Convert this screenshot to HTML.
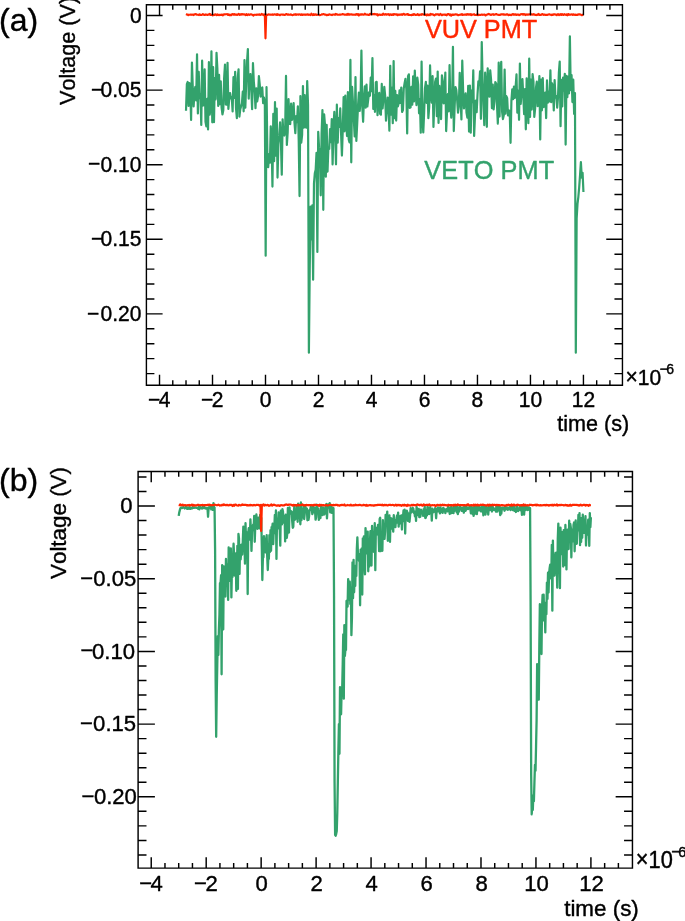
<!DOCTYPE html>
<html lang="en"><head><meta charset="utf-8"><title>VUV PMT / VETO PMT waveforms</title>
<style>html,body{margin:0;padding:0;background:#fff}body{width:685px;height:921px;overflow:hidden}svg{display:block;will-change:transform}text{font-family:'Liberation Sans', sans-serif;font-kerning:none;stroke-width:.4px;stroke-linejoin:round}</style></head><body>
<svg width="685" height="921" viewBox="0 0 685 921">
<rect width="685" height="921" fill="#fff"/>
<polyline points="186.01,110.72 186.86,84.18 187.71,81.96 188.56,105.88 189.4,82.99 190.25,87.54 191.1,119.96 191.95,62.51 192.79,87.73 193.64,106.35 194.49,91.39 195.34,86.8 196.18,100.47 197.03,54.29 197.88,113.51 198.73,71.77 199.57,98.08 200.42,94.44 201.27,124.94 202.12,60.72 202.96,105.56 203.81,105.09 204.66,69.41 205.5,121.82 206.35,126.34 207.2,98.76 208.05,129.48 208.89,62.2 209.74,114.63 210.59,107.33 211.44,51.31 212.28,122.3 213.13,67.16 213.98,122.17 214.83,78.21 215.67,99.41 216.52,52.73 217.37,68.7 218.22,106.01 219.06,74.81 219.91,104.23 220.76,81.4 221.61,107.61 222.45,114.44 223.3,110.31 224.15,77.84 224.99,64.49 225.84,104.38 226.69,104.64 227.54,62.89 228.38,108.94 229.23,98.7 230.08,93 230.93,98.48 231.77,97.6 232.62,111.52 233.47,77.16 234.32,97.96 235.16,71.77 236.01,108.25 236.86,118.18 237.71,78.19 238.55,69.31 239.4,116.56 240.25,109.43 241.1,106.29 241.94,103.25 242.79,91.65 243.64,111.3 244.48,60.1 245.33,107.74 246.18,82.6 247.03,61.87 247.87,49.07 248.72,98.6 249.57,77.28 250.42,74.13 251.26,89.03 252.11,109.18 252.96,63.2 253.81,81.6 254.65,91.38 255.5,108.11 256.35,88.46 257.2,101.43 258.04,96.39 258.89,76.15 259.74,84.24 260.59,96.53 261.43,88.91 262.28,87.44 263.13,103.23 263.97,97.59 264.82,102.18 265.67,255.71 266.52,87.22 267.36,153.23 268.21,167.07 269.06,154.18 269.91,162.63 270.75,126.24 271.6,140.8 272.45,186.58 273.3,113.76 274.14,161.12 274.99,102.16 275.84,155.62 276.69,108.57 277.53,177.53 278.38,144.52 279.23,135.39 280.08,122.34 280.92,141.54 281.77,174.61 282.62,119.38 283.46,134.53 284.31,135.47 285.16,131.11 286.01,75.94 286.85,145 287.7,132.02 288.55,99.22 289.4,123.87 290.24,124.03 291.09,103.7 291.94,119.92 292.79,116.81 293.63,103.04 294.48,122.71 295.33,133.09 296.18,116.18 297.02,122.26 297.87,106.28 298.72,140.51 299.56,196.03 300.41,96.09 301.26,142.59 302.11,134.86 302.95,86.02 303.8,127.73 304.65,95.09 305.5,126.72 306.34,127.67 307.19,81.15 308.04,105.02 308.89,352.69 309.73,269.14 310.58,206.48 311.43,239.3 312.28,205.43 313.12,279.77 313.97,183.51 314.82,173.24 315.67,169.68 316.51,152.89 317.36,251.9 318.21,131.84 319.05,147.17 319.9,154.35 320.75,195.31 321.6,133.57 322.44,110.06 323.29,209.82 324.14,114.25 324.99,124.76 325.83,176.67 326.68,124.93 327.53,171.58 328.38,147.43 329.22,148.9 330.07,128.99 330.92,142.04 331.77,119.01 332.61,164.39 333.46,127.24 334.31,111.97 335.16,132.38 336,164.3 336.85,104.69 337.7,142.73 338.54,118.1 339.39,126.95 340.24,108.47 341.09,133.6 341.93,155.57 342.78,129.17 343.63,97.04 344.48,131.3 345.32,95.51 346.17,120.38 347.02,136.06 347.87,92.15 348.71,139.37 349.56,142.46 350.41,59.95 351.26,162.32 352.1,86.97 352.95,102.07 353.8,118.59 354.65,136.44 355.49,77.06 356.34,140.9 357.19,123.63 358.03,105.64 358.88,92.68 359.73,110.94 360.58,97.73 361.42,50.56 362.27,106.49 363.12,121.8 363.97,97.9 364.81,86.32 365.66,107.69 366.51,84.64 367.36,106.5 368.2,99.64 369.05,92.25 369.9,95.78 370.75,77.58 371.59,91.23 372.44,58.11 373.29,108.99 374.14,95.06 374.98,111.83 375.83,82.25 376.68,81.88 377.52,115.21 378.37,99.17 379.22,92.86 380.07,113.78 380.91,114.66 381.76,83.96 382.61,108.39 383.46,98.9 384.3,86.95 385.15,95.53 386,120.74 386.85,109.69 387.69,97.61 388.54,106.88 389.39,130.63 390.24,65.88 391.08,114.75 391.93,87.96 392.78,123.25 393.63,61.03 394.47,118.18 395.32,90.94 396.17,120.56 397.01,95.07 397.86,106.39 398.71,103.18 399.56,90.4 400.4,103 401.25,87.58 402.1,111.99 402.95,110.15 403.79,88.07 404.64,82.99 405.49,78.83 406.34,89.1 407.18,133.42 408.03,76.17 408.88,74.32 409.73,107.91 410.57,107.36 411.42,86.9 412.27,104.72 413.12,76.3 413.96,101.45 414.81,70.59 415.66,93.02 416.5,105.09 417.35,77.56 418.2,84.51 419.05,113.31 419.89,99.39 420.74,132.69 421.59,61.54 422.44,117.53 423.28,132.35 424.13,113.03 424.98,88.46 425.83,81.9 426.67,102.84 427.52,85.72 428.37,118.16 429.22,106.72 430.06,65.43 430.91,93.6 431.76,102.61 432.6,76.15 433.45,126.95 434.3,102.3 435.15,81.79 435.99,78.55 436.84,116.17 437.69,71.52 438.54,122.93 439.38,85.85 440.23,103.06 441.08,119.1 441.93,75.39 442.77,81.25 443.62,103.31 444.47,94.81 445.32,72.56 446.16,131.09 447.01,111.64 447.86,94.01 448.71,111.28 449.55,65.22 450.4,104.58 451.25,117.64 452.09,103.41 452.94,46.82 453.79,131.03 454.64,106.4 455.48,87.13 456.33,90.09 457.18,100.46 458.03,112.68 458.87,105.4 459.72,72.86 460.57,98.36 461.42,119.52 462.26,60.72 463.11,89.96 463.96,108.33 464.81,99.45 465.65,93.27 466.5,112.57 467.35,117.56 468.2,85.82 469.04,131.6 469.89,85.52 470.74,132.64 471.58,90.61 472.43,102.03 473.28,70.4 474.13,136.02 474.97,116.14 475.82,100.66 476.67,112.13 477.52,94.57 478.36,81.27 479.21,84.86 480.06,71.27 480.91,118.78 481.75,42.06 482.6,80.05 483.45,105.08 484.3,125.15 485.14,72.72 485.99,85.77 486.84,126.81 487.69,68.24 488.53,88.11 489.38,96.59 490.23,70.33 491.07,79.68 491.92,108.15 492.77,84.48 493.62,109.44 494.46,101.33 495.31,82.14 496.16,83.59 497.01,105.17 497.85,123.64 498.7,62.66 499.55,116.55 500.4,73.23 501.24,61.88 502.09,111.57 502.94,119.11 503.79,115.26 504.63,69.63 505.48,113.73 506.33,96.08 507.18,98.16 508.02,115.43 508.87,110.28 509.72,111.94 510.56,142.79 511.41,100.48 512.26,89.25 513.11,99.27 513.95,86.69 514.8,97.93 515.65,86.67 516.5,74.43 517.34,112.76 518.19,90.97 519.04,119.81 519.89,63.61 520.73,103.86 521.58,90.77 522.43,79.08 523.28,95.64 524.12,114.22 524.97,89.21 525.82,129.33 526.66,78.31 527.51,102.29 528.36,123.23 529.21,58.67 530.05,116.93 530.9,79.59 531.75,109.55 532.6,74.16 533.44,81.63 534.29,116.86 535.14,108.71 535.99,87.66 536.83,81.68 537.68,106.11 538.53,96.4 539.38,76.06 540.22,139.42 541.07,79.61 541.92,110.28 542.77,78.19 543.61,107.05 544.46,105.05 545.31,92.55 546.15,118.09 547,80.43 547.85,102.7 548.7,91.87 549.54,101.43 550.39,70.26 551.24,102.2 552.09,83.33 552.93,88.18 553.78,110.43 554.63,80.11 555.48,97.59 556.32,95.99 557.17,107.6 558.02,97.4 558.87,72.91 559.71,61.61 560.56,126.14 561.41,79.78 562.26,106.51 563.1,77.6 563.95,90.7 564.8,73.84 565.64,144.6 566.49,75.73 567.34,97.22 568.19,76.6 569.03,93.29 569.88,36.39 570.73,90.1 571.58,75.18 572.42,102.04 573.27,79.66 574.12,113.97 574.97,93.08 575.81,352.69 576.66,218.41 577.51,203.94 578.36,196.78 579.2,187.08 580.05,175.14 580.9,162.16 581.75,177.68 582.59,172.91 583.44,192" fill="none" stroke="#33a26c" stroke-width="2.2" stroke-linejoin="round" stroke-linecap="butt"/>
<polyline points="186.01,14.02 186.78,14.46 187.54,14.57 188.31,15.22 189.07,14.7 189.84,14.72 190.6,14.63 191.36,14.81 192.13,14.62 192.89,14.76 193.66,15.04 194.42,14.31 195.19,14.32 195.95,14.04 196.71,14.59 197.48,14.74 198.24,14.78 199.01,15.11 199.77,14.28 200.54,14.97 201.3,14.99 202.06,14.67 202.83,14.12 203.59,14.53 204.36,14.94 205.12,14.84 205.89,14.4 206.65,14.66 207.41,14.86 208.18,14.68 208.94,14.36 209.71,13.96 210.47,15.01 211.24,14.81 212,14.87 212.76,15.4 213.53,14.91 214.29,14.94 215.06,14.24 215.82,14.65 216.59,15.14 217.35,14.39 218.11,14.72 218.88,15.18 219.64,14.8 220.41,14.8 221.17,14.89 221.94,14.6 222.7,15.34 223.46,14.69 224.23,14.27 224.99,14.32 225.76,14.24 226.52,14.24 227.29,14.12 228.05,14.97 228.81,14.33 229.58,15.22 230.34,14.8 231.11,15.23 231.87,14.26 232.64,14.17 233.4,14.67 234.16,14.02 234.93,14.83 235.69,14.56 236.46,14.55 237.22,14.95 237.99,14.46 238.75,13.97 239.51,14.94 240.28,14.31 241.04,14.66 241.81,14.02 242.57,14.45 243.34,14.38 244.1,14.39 244.86,14.52 245.63,15.06 246.39,14.15 247.16,15.05 247.92,14.53 248.69,14.4 249.45,14.88 250.21,14.56 250.98,14.22 251.74,14.61 252.51,14.9 253.27,15.56 254.04,14.92 254.8,14.8 255.56,14.77 256.33,14.92 257.09,14.48 257.86,14.79 258.62,14.64 259.39,14.38 260.15,14.89 260.91,14.7 261.68,13.9 262.44,14.32 263.21,15.03 263.97,14.63 264.74,14.42 264.84,14.6 265.5,38.33 266.16,14.6 266.26,14.56 267.03,14.78 267.79,14.84 268.56,14.39 269.32,14.5 270.09,14.77 270.85,14.67 271.61,14.74 272.38,14.37 273.14,14.83 273.91,14.45 274.67,14.33 275.44,14.45 276.2,14.88 276.96,14.16 277.73,14.83 278.49,14.46 279.26,14.85 280.02,15.18 280.79,14.53 281.55,14.51 282.31,14.63 283.08,14.51 283.84,14.82 284.61,14.85 285.37,14.66 286.14,13.98 286.9,14.34 287.66,14.78 288.43,14.42 289.19,14.76 289.96,14.75 290.72,14.32 291.49,14.78 292.25,15.15 293.01,14.9 293.78,14.58 294.54,14.56 295.31,14.2 296.07,14.84 296.84,14.36 297.6,14.46 298.36,14.65 299.13,14.33 299.89,14.44 300.66,14.89 301.42,14.25 302.19,15.01 302.95,14.59 303.71,14.6 304.48,14.47 305.24,14.84 306.01,14.62 306.77,14.65 307.54,14.28 308.3,14.87 309.06,14.58 309.83,14.69 310.59,15.03 311.36,13.73 312.12,14.63 312.89,15.09 313.65,14.14 314.41,14.96 315.18,14.48 315.94,14.32 316.71,14.82 317.47,14.75 318.24,14.78 319,14.65 319.76,15.14 320.53,15.01 321.29,14.65 322.06,14.26 322.82,14.4 323.59,14.04 324.35,14.38 325.11,14.77 325.88,14.65 326.64,15.27 327.41,14.92 328.17,14.94 328.94,14.52 329.7,14.39 330.46,14.79 331.23,14.8 331.99,15.11 332.76,14.65 333.52,14.52 334.29,14.46 335.05,14.86 335.81,13.95 336.58,14.21 337.34,14.64 338.11,14.78 338.87,14.71 339.64,14.56 340.4,14.61 341.16,14.45 341.93,14.35 342.69,14.16 343.46,14.23 344.22,14.64 344.99,14.48 345.75,14.73 346.51,14.8 347.28,13.98 348.04,14.76 348.81,13.95 349.57,14.72 350.33,14.52 351.1,14.25 351.86,14.6 352.63,14.48 353.39,14.68 354.16,14.76 354.92,14.66 355.68,14.82 356.45,14.07 357.21,14.66 357.98,14.04 358.74,15.49 359.51,14.6 360.27,14.42 361.03,14.7 361.8,14.25 362.56,14.39 363.33,14.69 364.09,14.46 364.86,13.68 365.62,14.52 366.38,14.51 367.15,14.75 367.91,14.56 368.68,15.03 369.44,14.67 370.21,13.8 370.97,14.25 371.73,14.39 372.5,14.24 373.26,13.99 374.03,14.41 374.79,13.93 375.56,14.25 376.32,14.55 377.08,14.04 377.85,15.38 378.61,14.79 379.38,14.52 380.14,14.9 380.91,14.66 381.67,14.81 382.43,14.82 383.2,13.71 383.96,14.4 384.73,14.62 385.49,14.17 386.26,14.68 387.02,14.31 387.78,14.49 388.55,14.07 389.31,15.07 390.08,14.35 390.84,14.56 391.61,14.98 392.37,14.26 393.13,14.89 393.9,14.07 394.66,14.44 395.43,14.38 396.19,14.58 396.96,14.31 397.72,15.22 398.48,14.58 399.25,14.81 400.01,14.51 400.78,14.62 401.54,14.4 402.31,14.88 403.07,14 403.83,13.84 404.6,14.67 405.36,14.61 406.13,14.51 406.89,14.19 407.66,13.98 408.42,15 409.18,14.81 409.95,14.95 410.71,14.97 411.48,15.14 412.24,14.49 413.01,14.99 413.77,14.11 414.53,14.31 415.3,14.94 416.06,14.94 416.83,14.81 417.59,14.15 418.36,14.88 419.12,15.1 419.88,14.62 420.65,14.48 421.41,14.82 422.18,14.07 422.94,14.53 423.71,14.46 424.47,14.89 425.23,14.62 426,14.66 426.76,15.35 427.53,14.51 428.29,15.19 429.06,14.61 429.82,15.09 430.58,13.94 431.35,14.5 432.11,14.32 432.88,14.3 433.64,15.04 434.41,15.35 435.17,14.71 435.93,14.31 436.7,14.57 437.46,14.35 438.23,14.3 438.99,15.09 439.76,14.51 440.52,13.96 441.28,14.79 442.05,15.27 442.81,14.68 443.58,14.76 444.34,14.47 445.11,14.9 445.87,14.58 446.63,15.33 447.4,14.32 448.16,14.08 448.93,14.18 449.69,15.1 450.46,14.5 451.22,15.58 451.98,14.51 452.75,14.63 453.51,14.93 454.28,14.49 455.04,14.56 455.81,14.3 456.57,14.56 457.33,14.53 458.1,15.24 458.86,14.99 459.63,14.76 460.39,14.51 461.16,14.61 461.92,14.11 462.68,14.89 463.45,14.68 464.21,14.52 464.98,14.68 465.74,14.44 466.51,14.79 467.27,14.14 468.03,14.71 468.8,14.24 469.56,14.61 470.33,14.12 471.09,15.06 471.86,14.44 472.62,14.75 473.38,14.53 474.15,14.21 474.91,14.98 475.68,15.04 476.44,14.93 477.21,14.52 477.97,15.22 478.73,14.57 479.5,15.03 480.26,14.98 481.03,14.73 481.79,14.48 482.56,14.81 483.32,14.77 484.08,14.62 484.85,14.69 485.61,15.48 486.38,14.75 487.14,14.58 487.91,14.24 488.67,13.93 489.43,14.39 490.2,14.58 490.96,14.92 491.73,14.58 492.49,14.35 493.26,14.19 494.02,14.89 494.78,14.53 495.55,14.34 496.31,13.99 497.08,14.52 497.84,14.78 498.61,14.83 499.37,14.72 500.13,14.82 500.9,14.33 501.66,14.25 502.43,14.37 503.19,14.21 503.96,14.75 504.72,14.48 505.48,14.73 506.25,14.59 507.01,14.2 507.78,14.61 508.54,15.22 509.3,14.69 510.07,14.84 510.83,15.1 511.6,14.86 512.36,14.29 513.13,14.05 513.89,14.77 514.65,14.28 515.42,14.22 516.18,14.99 516.95,14.62 517.71,14.62 518.48,14.55 519.24,15.13 520,14.72 520.77,14.26 521.53,14.19 522.3,14 523.06,14.72 523.83,13.99 524.59,14.39 525.35,15.05 526.12,14.35 526.88,14.72 527.65,14.43 528.41,14.64 529.18,14.21 529.94,14.52 530.7,14.7 531.47,14.29 532.23,14.52 533,14.74 533.76,14.19 534.53,14.74 535.29,14.81 536.05,14.78 536.82,15.09 537.58,14.79 538.35,13.99 539.11,14.9 539.88,14.6 540.64,14.97 541.4,14.81 542.17,14.11 542.93,14.31 543.7,14.81 544.46,14.6 545.23,14.88 545.99,14.86 546.75,14.91 547.52,14.9 548.28,14.5 549.05,14.41 549.81,14.44 550.58,14.66 551.34,15.05 552.1,14.63 552.87,14.91 553.63,14.32 554.4,14.42 555.16,14.36 555.93,14.72 556.69,15.2 557.45,14.29 558.22,14.2 558.98,15.09 559.75,14.56 560.51,14.21 561.28,14.96 562.04,14.02 562.8,14.72 563.57,14.96 564.33,14.15 565.1,14.51 565.86,14.82 566.63,14.32 567.39,15.25 568.15,14.01 568.92,14.87 569.68,14.51 570.45,14.74 571.21,14.46 571.98,14.31 572.74,14.88 573.5,14.35 574.27,14.7 575.03,14.83 575.8,14.68 576.56,14.93 577.33,14.87 578.09,14.29 578.85,14.65 579.62,14.23 580.38,14.46 581.15,14.94 581.91,15.23 582.68,14.83 583.44,14.52" fill="none" stroke="#ff2600" stroke-width="2.15" stroke-linejoin="round" stroke-linecap="butt"/>
<path d="M146.4 4.75H622.45V385.3H146.4ZM159.52 385.3v-10.5M159.52 4.75v10.5M172.77 385.3v-5M172.77 4.75v5M186.01 385.3v-5M186.01 4.75v5M199.26 385.3v-5M199.26 4.75v5M212.51 385.3v-10.5M212.51 4.75v10.5M225.76 385.3v-5M225.76 4.75v5M239 385.3v-5M239 4.75v5M252.25 385.3v-5M252.25 4.75v5M265.5 385.3v-10.5M265.5 4.75v10.5M278.75 385.3v-5M278.75 4.75v5M292 385.3v-5M292 4.75v5M305.24 385.3v-5M305.24 4.75v5M318.49 385.3v-10.5M318.49 4.75v10.5M331.74 385.3v-5M331.74 4.75v5M344.99 385.3v-5M344.99 4.75v5M358.23 385.3v-5M358.23 4.75v5M371.48 385.3v-10.5M371.48 4.75v10.5M384.73 385.3v-5M384.73 4.75v5M397.98 385.3v-5M397.98 4.75v5M411.22 385.3v-5M411.22 4.75v5M424.47 385.3v-10.5M424.47 4.75v10.5M437.72 385.3v-5M437.72 4.75v5M450.97 385.3v-5M450.97 4.75v5M464.21 385.3v-5M464.21 4.75v5M477.46 385.3v-10.5M477.46 4.75v10.5M490.71 385.3v-5M490.71 4.75v5M503.96 385.3v-5M503.96 4.75v5M517.2 385.3v-5M517.2 4.75v5M530.45 385.3v-10.5M530.45 4.75v10.5M543.7 385.3v-5M543.7 4.75v5M556.94 385.3v-5M556.94 4.75v5M570.19 385.3v-5M570.19 4.75v5M583.44 385.3v-10.5M583.44 4.75v10.5M596.69 385.3v-5M596.69 4.75v5M609.93 385.3v-5M609.93 4.75v5M146.4 15.5h16.2M622.45 15.5h-16.2M146.4 30.42h8M622.45 30.42h-8M146.4 45.34h8M622.45 45.34h-8M146.4 60.26h8M622.45 60.26h-8M146.4 75.18h8M622.45 75.18h-8M146.4 90.1h16.2M622.45 90.1h-16.2M146.4 105.02h8M622.45 105.02h-8M146.4 119.94h8M622.45 119.94h-8M146.4 134.86h8M622.45 134.86h-8M146.4 149.78h8M622.45 149.78h-8M146.4 164.7h16.2M622.45 164.7h-16.2M146.4 179.62h8M622.45 179.62h-8M146.4 194.54h8M622.45 194.54h-8M146.4 209.46h8M622.45 209.46h-8M146.4 224.38h8M622.45 224.38h-8M146.4 239.3h16.2M622.45 239.3h-16.2M146.4 254.22h8M622.45 254.22h-8M146.4 269.14h8M622.45 269.14h-8M146.4 284.06h8M622.45 284.06h-8M146.4 298.98h8M622.45 298.98h-8M146.4 313.9h16.2M622.45 313.9h-16.2M146.4 328.82h8M622.45 328.82h-8M146.4 343.74h8M622.45 343.74h-8M146.4 358.66h8M622.45 358.66h-8M146.4 373.58h8M622.45 373.58h-8" fill="none" stroke="#000" stroke-width="1.4" stroke-linecap="butt" stroke-linejoin="miter"/>
<text transform="translate(141.6 22.5) scale(1 1.04)" font-size="21" text-anchor="end" fill="#000" stroke="#000">0</text>
<text transform="translate(141.4 97.1) scale(1 1.04)" font-size="21" text-anchor="end" fill="#000" stroke="#000"><tspan dy="-0.2">−</tspan><tspan dx="-2.6" dy="0.2">0.05</tspan></text>
<text transform="translate(141.4 171.7) scale(1 1.04)" font-size="21" text-anchor="end" fill="#000" stroke="#000"><tspan dy="-0.2">−</tspan><tspan dx="0.4" dy="0.2">0.10</tspan></text>
<text transform="translate(141.4 246.3) scale(1 1.04)" font-size="21" text-anchor="end" fill="#000" stroke="#000"><tspan dy="-0.2">−</tspan><tspan dx="-2.6" dy="0.2">0.15</tspan></text>
<text transform="translate(141.4 320.9) scale(1 1.04)" font-size="21" text-anchor="end" fill="#000" stroke="#000"><tspan dy="-0.2">−</tspan><tspan dx="1.2" dy="0.2">0.20</tspan></text>
<text transform="translate(159.22 407) scale(1 1.04)" font-size="21" text-anchor="middle" fill="#000" stroke="#000"><tspan dy="-0.4">−</tspan><tspan dx="-1.6" dy="0.4">4</tspan></text>
<text transform="translate(212.21 407) scale(1 1.04)" font-size="21" text-anchor="middle" fill="#000" stroke="#000"><tspan dy="-0.4">−</tspan><tspan dx="-1.6" dy="0.4">2</tspan></text>
<text transform="translate(265.5 407) scale(1 1.04)" font-size="21" text-anchor="middle" fill="#000" stroke="#000">0</text>
<text transform="translate(318.49 407) scale(1 1.04)" font-size="21" text-anchor="middle" fill="#000" stroke="#000">2</text>
<text transform="translate(371.48 407) scale(1 1.04)" font-size="21" text-anchor="middle" fill="#000" stroke="#000">4</text>
<text transform="translate(424.47 407) scale(1 1.04)" font-size="21" text-anchor="middle" fill="#000" stroke="#000">6</text>
<text transform="translate(477.46 407) scale(1 1.04)" font-size="21" text-anchor="middle" fill="#000" stroke="#000">8</text>
<text transform="translate(530.45 407) scale(1 1.04)" font-size="21" text-anchor="middle" fill="#000" stroke="#000">10</text>
<text transform="translate(583.44 407) scale(1 1.04)" font-size="21" text-anchor="middle" fill="#000" stroke="#000">12</text>
<text x="629.2" y="430.9" font-size="21.6" text-anchor="end" fill="#000" stroke="#000">time (s)</text>
<text transform="translate(625.6 384.7) scale(1 1.07)" font-size="21" stroke="#000"><tspan dy="-1.0">×</tspan><tspan dy="1.0">10</tspan><tspan dy="-10.0" dx="-1.5" font-size="14">−<tspan dx="-1.6">6</tspan></tspan></text>
<text transform="translate(74.9 104.9) rotate(-90)" font-size="21.6" stroke="#000">Voltage (V)</text>
<text x="-1" y="30.7" font-size="32" text-anchor="start" fill="#000" stroke="#000">(a)</text>
<text x="424.9" y="37.5" font-size="25.3" text-anchor="start" fill="#ff2600" stroke="#ff2600" textLength="112.3" lengthAdjust="spacing">VUV PMT</text>
<text x="424.3" y="179.4" font-size="25.3" text-anchor="start" fill="#33a26c" stroke="#33a26c" textLength="129.8" lengthAdjust="spacing">VETO PMT</text>
<polyline points="178.71,515.89 179.25,512.54 179.8,510.36 180.34,508.38 180.88,507.55 181.43,507.48 181.97,508.12 182.51,508 183.05,507.1 183.6,507.4 184.14,507.62 184.68,508.42 185.23,508.02 185.77,506.99 186.31,507.32 186.86,508.64 187.4,508.92 187.94,507.44 188.49,507.34 189.03,508.87 189.57,507.36 190.11,508.41 190.66,508.9 191.2,507.88 191.74,507.68 192.29,508.31 192.83,507.25 193.37,507.77 193.92,507.43 194.46,507.74 195,507.48 195.55,507.73 196.09,507.55 196.63,507.91 197.17,507.79 197.72,507.96 198.26,508.88 198.8,506.85 199.35,509.36 199.89,507.37 200.43,507.11 200.98,507.9 201.52,507.86 202.06,508.61 202.61,507.03 203.15,508.17 203.69,507.8 204.23,506.92 204.78,507.34 205.32,508.53 205.86,508.15 206.41,508.46 206.95,507.91 207.49,507.93 208.04,516.76 208.58,508.74 209.12,507.09 209.67,507.84 210.21,508.08 210.75,506.92 211.29,509.38 211.84,507.1 212.38,507.88 212.92,509.85 213.47,503.09 214.01,507.74 214.55,507.45 215.1,549.62 215.64,680.48 216.18,736.75 216.73,695.02 217.27,665.03 217.81,636.13 218.36,654.98 218.9,629.87 219.44,614.83 219.98,583.04 220.53,583.55 221.07,575.1 221.61,674.23 222.16,565.09 222.7,628.68 223.24,629.31 223.79,566.43 224.33,575.82 224.87,574.68 225.42,596.57 225.96,558.95 226.5,578.98 227.04,564.22 227.59,570.59 228.13,599.94 228.67,547.4 229.22,572.15 229.76,572.72 230.3,580.87 230.85,548.4 231.39,597.4 231.93,567.44 232.48,577.05 233.02,558.46 233.56,543.76 234.1,555.5 234.65,575.48 235.19,554.53 235.73,553.4 236.28,590.75 236.82,586.18 237.36,545.78 237.91,588.92 238.45,533.99 238.99,538.25 239.54,573.87 240.08,544.9 240.62,559.4 241.16,552.63 241.71,544.39 242.25,554.56 242.79,541.41 243.34,526.53 243.88,549.61 244.42,540.9 244.97,563.62 245.51,523.19 246.05,541.53 246.6,532.03 247.14,535.57 247.68,594.11 248.22,533.65 248.77,528.15 249.31,535.95 249.85,539.7 250.4,519.29 250.94,530.81 251.48,550.89 252.03,532.36 252.57,526.67 253.11,524.71 253.66,527.98 254.2,515.78 254.74,541.76 255.28,525.64 255.83,524.04 256.37,514.49 256.91,520.46 257.46,528.9 258,523.47 258.54,517.59 259.09,527.46 259.63,528.38 260.17,514.87 260.72,519.96 261.26,517.88 261.8,546.24 262.34,580.08 262.89,557.88 263.43,557.19 263.97,536.27 264.52,539.93 265.06,552.08 265.6,543.44 266.15,552.66 266.69,535.22 267.23,557.01 267.78,570.03 268.32,558 268.86,558.88 269.4,535.13 269.95,552.06 270.49,530.22 271.03,550.84 271.58,527.14 272.12,528.74 272.66,523.63 273.21,544.14 273.75,529.42 274.29,529.3 274.84,514.94 275.38,533.19 275.92,510.49 276.46,558.94 277.01,518.71 277.55,528.54 278.09,523.03 278.64,512.47 279.18,515.89 279.72,529.57 280.27,545.62 280.81,510.66 281.35,519.86 281.9,524.35 282.44,509.14 282.98,511.51 283.53,522.58 284.07,522.19 284.61,516.1 285.15,541.47 285.7,514.7 286.24,524.77 286.78,537.83 287.33,533.44 287.87,507.95 288.41,520.54 288.96,532.58 289.5,507.38 290.04,513.5 290.59,510.85 291.13,511.19 291.67,511.77 292.21,521.15 292.76,527.74 293.3,526.68 293.84,512.57 294.39,505.28 294.93,519.73 295.47,512.69 296.02,518.52 296.56,512.82 297.1,504.91 297.65,521.79 298.19,503.61 298.73,512.37 299.27,516.92 299.82,514.31 300.36,524.29 300.9,502.51 301.45,520.08 301.99,515.84 302.53,508.96 303.08,517.25 303.62,505.43 304.16,519.01 304.71,513.96 305.25,505.48 305.79,509.32 306.33,511.87 306.88,508.63 307.42,520.24 307.96,510.64 308.51,519.91 309.05,516.24 309.59,509.8 310.14,509.84 310.68,506.97 311.22,508.75 311.77,508.16 312.31,514.14 312.85,506.2 313.39,512.36 313.94,511.27 314.48,507.61 315.02,509.9 315.57,519.69 316.11,517.31 316.65,504.73 317.2,509.82 317.74,508.04 318.28,508.82 318.83,519.94 319.37,510.78 319.91,515.77 320.45,518.01 321,505.22 321.54,509 322.08,509.75 322.63,515.04 323.17,507.47 323.71,512.81 324.26,514.48 324.8,513.37 325.34,509.26 325.89,505.08 326.43,503.96 326.97,518.46 327.51,509.33 328.06,504.44 328.6,507.5 329.14,507.08 329.69,503.18 330.23,512.43 330.77,505.01 331.32,508.12 331.86,512.75 332.4,508.18 332.95,507.74 333.49,508.18 334.03,593.24 334.57,782.26 335.12,834.89 335.66,835.77 336.2,833.88 336.75,830.97 337.29,812.79 337.83,782.26 338.38,750.27 338.92,724.1 339.46,753.79 340.01,687.12 340.55,695.25 341.09,714.3 341.63,689.03 342.18,689.21 342.72,664.38 343.26,634.38 343.81,698.64 344.35,625.26 344.89,655.98 345.44,649.26 345.98,649.96 346.52,600.99 347.07,604.47 347.61,606.59 348.15,579.14 348.69,599.52 349.24,586.26 349.78,581.72 350.32,604 350.87,587.48 351.41,635.17 351.95,617.34 352.5,562.36 353.04,598.16 353.58,559.78 354.13,592.33 354.67,571.6 355.21,585.86 355.76,565.58 356.3,575.97 356.84,548.9 357.38,537.42 357.93,553.62 358.47,554.5 359.01,560.89 359.56,553.8 360.1,605.25 360.64,549.54 361.19,585.37 361.73,548.45 362.27,594.53 362.82,538.32 363.36,569.22 363.9,536.39 364.44,564.53 364.99,574.35 365.53,528.11 366.07,541.85 366.62,553.37 367.16,542.59 367.7,531.64 368.25,571.25 368.79,542.38 369.33,566.59 369.88,543.49 370.42,531.27 370.96,542.71 371.5,565.53 372.05,525.95 372.59,540.47 373.13,551.23 373.68,551.71 374.22,545.8 374.76,523.25 375.31,570.17 375.85,527.55 376.39,534.81 376.94,533.1 377.48,531.38 378.02,524.78 378.56,533.27 379.11,551.21 379.65,519 380.19,517.81 380.74,551.2 381.28,534.19 381.82,538.97 382.37,550.81 382.91,520.26 383.45,534.05 384,533.33 384.54,538.92 385.08,531.44 385.62,514.82 386.17,514.96 386.71,522.62 387.25,511.64 387.8,540.82 388.34,516.63 388.88,519.12 389.43,515.45 389.97,541.85 390.51,520.78 391.06,518.29 391.6,528.5 392.14,518.89 392.68,526.44 393.23,531.7 393.77,515.2 394.31,524.14 394.86,521.76 395.4,527.2 395.94,520.63 396.49,518.56 397.03,515.41 397.57,522.6 398.12,512.64 398.66,526.59 399.2,518.23 399.74,523.54 400.29,515.94 400.83,515.63 401.37,515.71 401.92,529.49 402.46,514.9 403,516.49 403.55,510.38 404.09,521.17 404.63,509.69 405.18,533.52 405.72,512.94 406.26,516.61 406.8,510.6 407.35,512.3 407.89,520.91 408.43,513.4 408.98,518.1 409.52,521.75 410.06,515.99 410.61,508.14 411.15,512.58 411.69,511.01 412.24,511.49 412.78,507.84 413.32,508.57 413.86,512.79 414.41,511.71 414.95,516.36 415.49,511.5 416.04,520.91 416.58,506.88 417.12,509.46 417.67,515.18 418.21,510.66 418.75,508.86 419.3,517.2 419.84,516.25 420.38,516.66 420.93,509.53 421.47,511.99 422.01,512.62 422.55,511.38 423.1,515.9 423.64,509.1 424.18,513.76 424.73,506.69 425.27,518.04 425.81,517.7 426.36,509.88 426.9,515.53 427.44,506.91 427.99,511.98 428.53,507.57 429.07,514.03 429.61,512.45 430.16,507.23 430.7,509.89 431.24,510.01 431.79,520.65 432.33,508.68 432.87,511.56 433.42,512.23 433.96,511.71 434.5,510.22 435.05,508.2 435.59,510.33 436.13,518.28 436.67,509.83 437.22,509.16 437.76,507.34 438.3,511.25 438.85,510.19 439.39,508.11 439.93,513.45 440.48,507.45 441.02,509.31 441.56,512.19 442.11,509.26 442.65,512.83 443.19,507.82 443.73,508.32 444.28,511.17 444.82,509.53 445.36,513.07 445.91,509.51 446.45,508.96 446.99,510.8 447.54,511.22 448.08,506.87 448.62,510.28 449.17,508.98 449.71,513.98 450.25,507.72 450.79,513.45 451.34,506.55 451.88,510.41 452.42,512.88 452.97,508.1 453.51,513.15 454.05,505.49 454.6,510.94 455.14,509.47 455.68,508.57 456.23,506.14 456.77,512.37 457.31,505.15 457.85,514.17 458.4,508.85 458.94,511.51 459.48,507.64 460.03,506.73 460.57,508.36 461.11,508 461.66,510.79 462.2,507.61 462.74,510.1 463.29,509.72 463.83,512.67 464.37,505.18 464.91,509.15 465.46,510.94 466,509.86 466.54,506.97 467.09,508.41 467.63,508.66 468.17,509.11 468.72,507.34 469.26,507.59 469.8,506.77 470.35,508.62 470.89,513.41 471.43,506.19 471.97,512.52 472.52,513.95 473.06,507.86 473.6,515.92 474.15,506.86 474.69,514 475.23,507.36 475.78,506.27 476.32,510.49 476.86,514.16 477.41,506.31 477.95,510.27 478.49,506.29 479.03,507.21 479.58,510.39 480.12,507.65 480.66,510.02 481.21,511.5 481.75,505.56 482.29,507.53 482.84,508.84 483.38,515.28 483.92,506.17 484.47,507.28 485.01,509.74 485.55,514.54 486.09,505.95 486.64,507.94 487.18,508.6 487.72,510.28 488.27,514.5 488.81,505.18 489.35,505.86 489.9,510.05 490.44,509.58 490.98,504.9 491.53,508.39 492.07,511.47 492.61,506.55 493.16,509.93 493.7,508.33 494.24,509.85 494.78,508.89 495.33,508.62 495.87,511.67 496.41,506.47 496.96,509.07 497.5,511.49 498.04,506.63 498.59,507.95 499.13,507.02 499.67,506.87 500.22,515.14 500.76,508.02 501.3,513.67 501.84,508.71 502.39,507.93 502.93,507.56 503.47,509.1 504.02,507.9 504.56,510.73 505.1,506.03 505.65,509.27 506.19,509.25 506.73,507.37 507.28,507.83 507.82,509.81 508.36,509.17 508.9,507.56 509.45,508.22 509.99,506.99 510.53,510.12 511.08,507.54 511.62,505.53 512.16,508.56 512.71,510.03 513.25,508.34 513.79,506.19 514.34,510.88 514.88,509.08 515.42,509.19 515.96,511.97 516.51,506.48 517.05,509.95 517.59,507.13 518.14,511 518.68,510.35 519.22,508.36 519.77,509.55 520.31,506.03 520.85,510.37 521.4,505.61 521.94,514.88 522.48,509.33 523.02,505.08 523.57,504.88 524.11,514.64 524.65,505.8 525.2,510.19 525.74,505.58 526.28,509.2 526.83,506.65 527.37,510.05 527.91,507.85 528.46,509.73 529,507.43 529.54,509.57 530.08,508.18 530.63,607.78 531.17,774.99 531.71,814.39 532.26,804.07 532.8,809.89 533.34,795.35 533.89,801.16 534.43,782.26 534.97,764.81 535.52,770.63 536.06,745.91 536.6,720.23 537.14,664.05 537.69,697.43 538.23,679.64 538.77,699.68 539.32,645.87 539.86,604.17 540.4,631.65 540.95,613.74 541.49,654.04 542.03,608.06 542.58,594.97 543.12,620.44 543.66,594.67 544.2,620.04 544.75,607.2 545.29,632.37 545.83,602.62 546.38,614.19 546.92,582.58 547.46,598.97 548.01,572.75 548.55,592.53 549.09,573.87 549.64,568.16 550.18,564.65 550.72,565.13 551.26,578.61 551.81,544.86 552.35,610.66 552.89,540.58 553.44,572.29 553.98,559.56 554.52,575.56 555.07,557.47 555.61,552.95 556.15,552.78 556.7,565.71 557.24,587.69 557.78,539.1 558.33,523.56 558.87,547.06 559.41,555.12 559.95,588.17 560.5,527.73 561.04,542.66 561.58,554.21 562.13,547.27 562.67,531.82 563.21,566.51 563.76,530.06 564.3,544.27 564.84,565.02 565.39,525.01 565.93,540.11 566.47,569.42 567.01,531.06 567.56,529.58 568.1,536 568.64,549.1 569.19,520.73 569.73,533.14 570.27,523.8 570.82,527.64 571.36,557.38 571.9,529.58 572.45,529.63 572.99,541.38 573.53,524.98 574.07,522.52 574.62,551.24 575.16,535.68 575.7,520.5 576.25,540.61 576.79,543.74 577.33,529.49 577.88,530.59 578.42,515.02 578.96,526.9 579.51,513.09 580.05,545.21 580.59,521.42 581.13,541.96 581.68,517.78 582.22,537.79 582.76,514.66 583.31,526.54 583.85,532.95 584.39,528.62 584.94,524.85 585.48,516.1 586.02,545.51 586.57,528.24 587.11,534.58 587.65,531.9 588.19,519.72 588.74,528.78 589.28,545.85 589.82,513.06 590.37,527.15 590.91,517.29" fill="none" stroke="#33a26c" stroke-width="2.3" stroke-linejoin="round" stroke-linecap="butt"/>
<polyline points="178.71,504.99 179.5,505.23 180.3,504.35 181.09,505.21 181.88,505.09 182.67,504.62 183.47,505.42 184.26,505.32 185.05,505.07 185.84,505.23 186.64,505.51 187.43,505.19 188.22,505.24 189.01,504.93 189.81,505.66 190.6,505.35 191.39,504.76 192.19,504.53 192.98,505.61 193.77,504.92 194.56,505.44 195.36,505.4 196.15,505.41 196.94,505.26 197.73,504.81 198.53,504.9 199.32,505.11 200.11,505.24 200.91,505.13 201.7,505.16 202.49,504.87 203.28,505.33 204.08,505.13 204.87,505.16 205.66,505.14 206.45,505.05 207.25,505.06 208.04,504.7 208.83,505.16 209.62,504.63 210.42,505.23 211.21,505.28 212,505.1 212.8,505.01 213.59,505.04 214.38,504.71 215.17,504.76 215.97,504.97 216.76,505.24 217.55,505.16 218.34,504.68 219.14,505.06 219.93,505.55 220.72,505.35 221.52,505.31 222.31,504.76 223.1,505.16 223.89,504.4 224.69,504.92 225.48,505.09 226.27,505.27 227.06,504.82 227.86,505.2 228.65,505.39 229.44,504.95 230.23,505.12 231.03,504.75 231.82,505.15 232.61,506.04 233.41,504.88 234.2,505.73 234.99,504.64 235.78,504.54 236.58,505.26 237.37,505.5 238.16,505.57 238.95,504.85 239.75,505.19 240.54,505.32 241.33,505.21 242.13,504.46 242.92,505.02 243.71,504.89 244.5,504.88 245.3,504.8 246.09,504.79 246.88,505.35 247.67,505.2 248.47,505.37 249.26,505.36 250.05,504.76 250.84,505.29 251.64,505.15 252.43,505.35 253.22,505.32 254.02,504.88 254.81,505.27 255.6,505.28 256.39,504.97 257.19,504.97 257.98,504.87 258.77,505.07 259.56,505.69 260.36,504.93 260.46,505.13 261.15,531.01 261.84,505.13 261.94,504.8 262.74,505.4 263.53,504.32 264.32,505.52 265.11,504.9 265.91,505.11 266.7,505.28 267.49,504.87 268.28,505.22 269.08,505.87 269.87,505.5 270.66,504.98 271.45,504.41 272.25,505.6 273.04,505.13 273.83,504.66 274.63,504.93 275.42,505.25 276.21,505.58 277,505.7 277.8,505.37 278.59,505.25 279.38,505.85 280.17,505.67 280.97,505.03 281.76,505.26 282.55,505.37 283.35,505.26 284.14,505.39 284.93,504.83 285.72,504.6 286.52,504.46 287.31,504.9 288.1,504.89 288.89,504.66 289.69,504.57 290.48,504.66 291.27,504.74 292.06,505.33 292.86,505.64 293.65,504.85 294.44,505.16 295.24,505.15 296.03,505.41 296.82,505.54 297.61,504.68 298.41,504.98 299.2,505.47 299.99,505 300.78,505.03 301.58,504.96 302.37,504.41 303.16,505.14 303.96,505.54 304.75,505.12 305.54,505.33 306.33,504.95 307.13,505.06 307.92,505.02 308.71,505.31 309.5,505 310.3,505.29 311.09,504.96 311.88,505.22 312.67,505.49 313.47,504.97 314.26,505.35 315.05,504.67 315.85,504.99 316.64,504.98 317.43,505.1 318.22,505.15 319.02,505.89 319.81,504.74 320.6,505.39 321.39,504.82 322.19,505.33 322.98,505.17 323.77,505.2 324.57,505.46 325.36,505.18 326.15,504.98 326.94,505.26 327.74,505.53 328.53,505.31 329.32,505.05 330.11,504.76 330.91,504.86 331.7,505.04 332.49,505.45 333.28,504.84 334.08,505.12 334.87,505.2 335.66,504.84 336.46,504.93 337.25,504.97 338.04,505.5 338.83,505.32 339.63,505.67 340.42,505.07 341.21,505.12 342,504.83 342.8,505.06 343.59,505.25 344.38,504.45 345.18,505.46 345.97,505.56 346.76,505.32 347.55,504.96 348.35,505.24 349.14,505.27 349.93,505.49 350.72,504.66 351.52,505.33 352.31,505.47 353.1,505.17 353.89,505.39 354.69,505.2 355.48,504.7 356.27,505.27 357.07,505.14 357.86,505.25 358.65,505.19 359.44,504.87 360.24,504.96 361.03,505.24 361.82,505.43 362.61,505.17 363.41,504.86 364.2,505.13 364.99,505.17 365.79,505.71 366.58,504.81 367.37,505.6 368.16,505.54 368.96,505.25 369.75,505.12 370.54,505.11 371.33,505.37 372.13,505.23 372.92,505.32 373.71,505.71 374.5,505.21 375.3,505.35 376.09,504.99 376.88,505.17 377.68,504.82 378.47,504.9 379.26,504.84 380.05,504.74 380.85,504.91 381.64,505.18 382.43,504.69 383.22,505.42 384.02,505.14 384.81,504.85 385.6,505.22 386.4,504.9 387.19,505.38 387.98,505.3 388.77,504.95 389.57,504.9 390.36,504.74 391.15,505.15 391.94,505.03 392.74,504.93 393.53,504.98 394.32,505.54 395.12,505.31 395.91,504.67 396.7,505.53 397.49,504.93 398.29,505.26 399.08,504.81 399.87,505.38 400.66,505.11 401.46,505.78 402.25,505.14 403.04,504.78 403.83,505.61 404.63,504.75 405.42,505.36 406.21,505.14 407.01,506.02 407.8,504.78 408.59,505.41 409.38,505.3 410.18,505.54 410.97,505.45 411.76,504.76 412.55,505.29 413.35,504.84 414.14,505.18 414.93,505.02 415.72,505.29 416.52,504.99 417.31,504.3 418.1,504.92 418.9,504.97 419.69,505.28 420.48,504.8 421.27,504.69 422.07,505.67 422.86,505.57 423.65,504.46 424.44,504.99 425.24,505.09 426.03,504.95 426.82,504.78 427.62,504.87 428.41,505.2 429.2,504.47 429.99,505.12 430.79,505.41 431.58,505.31 432.37,505.17 433.16,505.25 433.96,505.19 434.75,505.03 435.54,506.18 436.33,505.38 437.13,504.82 437.92,504.95 438.71,505.35 439.51,505.33 440.3,504.76 441.09,505.21 441.88,505.3 442.68,504.53 443.47,505.25 444.26,504.91 445.05,505.14 445.85,505.11 446.64,505.43 447.43,505.39 448.23,504.73 449.02,505.49 449.81,505.04 450.6,505.51 451.4,505.2 452.19,505.14 452.98,505.65 453.77,504.76 454.57,505.19 455.36,504.74 456.15,505.43 456.94,504.84 457.74,504.38 458.53,505.06 459.32,505.33 460.12,504.97 460.91,505.08 461.7,505.19 462.49,505.17 463.29,505.31 464.08,504.99 464.87,505.25 465.66,505.4 466.46,504.87 467.25,505.18 468.04,504.28 468.84,505.21 469.63,505.36 470.42,505.3 471.21,505.01 472.01,505.35 472.8,505.53 473.59,504.6 474.38,505.52 475.18,504.64 475.97,505.08 476.76,505.47 477.55,504.59 478.35,505.19 479.14,505.45 479.93,505.11 480.73,504.72 481.52,504.91 482.31,504.86 483.1,504.57 483.9,505.06 484.69,505.01 485.48,505.2 486.27,505.59 487.07,505.17 487.86,504.61 488.65,505.68 489.45,504.7 490.24,505.04 491.03,505.42 491.82,505.11 492.62,504.56 493.41,505.31 494.2,504.87 494.99,504.77 495.79,505.41 496.58,504.93 497.37,504.96 498.16,505.28 498.96,504.91 499.75,505.24 500.54,505.31 501.34,505.52 502.13,505 502.92,505.26 503.71,505.31 504.51,505.5 505.3,505.56 506.09,505.38 506.88,504.89 507.68,505.39 508.47,504.67 509.26,505 510.06,505.08 510.85,505.51 511.64,504.5 512.43,505.59 513.23,504.96 514.02,504.59 514.81,505.19 515.6,505.35 516.4,505.13 517.19,504.83 517.98,504.69 518.77,504.93 519.57,505.47 520.36,505.34 521.15,505.06 521.95,505.54 522.74,505.2 523.53,504.41 524.32,505.47 525.12,504.76 525.91,505.43 526.7,505.24 527.49,505.15 528.29,505.61 529.08,505.16 529.87,504.71 530.67,504.9 531.46,504.9 532.25,505.38 533.04,505.17 533.84,505.06 534.63,504.91 535.42,504.7 536.21,505.45 537.01,504.58 537.8,505.22 538.59,505.21 539.38,505.51 540.18,505.15 540.97,505.2 541.76,505.52 542.56,505.22 543.35,505.09 544.14,505.26 544.93,504.88 545.73,505.46 546.52,504.84 547.31,505.19 548.1,505.01 548.9,505.72 549.69,505.09 550.48,505.15 551.28,504.83 552.07,505.51 552.86,504.69 553.65,505.47 554.45,504.71 555.24,504.94 556.03,505.37 556.82,504.43 557.62,505.51 558.41,505.18 559.2,505.06 560,504.96 560.79,505.06 561.58,504.87 562.37,504.98 563.17,505.12 563.96,505.42 564.75,505.24 565.54,504.84 566.34,505.5 567.13,505.09 567.92,505.78 568.71,505.35 569.51,505.65 570.3,504.73 571.09,505.71 571.89,505.2 572.68,504.89 573.47,504.93 574.26,504.88 575.06,504.79 575.85,504.98 576.64,504.86 577.43,505.14 578.23,505.14 579.02,505.69 579.81,505.07 580.61,504.72 581.4,505.37 582.19,505.5 582.98,505.1 583.78,504.76 584.57,504.74 585.36,505.61 586.15,504.98 586.95,505.34 587.74,505.04 588.53,505.85 589.32,504.83 590.12,505.25 590.91,505.06" fill="none" stroke="#ff2600" stroke-width="2.2" stroke-linejoin="round" stroke-linecap="butt"/>
<path d="M138.1 471.5H632.45V868.1H138.1ZM151.23 868.1v-10.8M151.23 471.5v10.8M164.97 868.1v-5.2M164.97 471.5v5.2M178.71 868.1v-5.2M178.71 471.5v5.2M192.45 868.1v-5.2M192.45 471.5v5.2M206.19 868.1v-10.8M206.19 471.5v10.8M219.93 868.1v-5.2M219.93 471.5v5.2M233.67 868.1v-5.2M233.67 471.5v5.2M247.41 868.1v-5.2M247.41 471.5v5.2M261.15 868.1v-10.8M261.15 471.5v10.8M274.89 868.1v-5.2M274.89 471.5v5.2M288.63 868.1v-5.2M288.63 471.5v5.2M302.37 868.1v-5.2M302.37 471.5v5.2M316.11 868.1v-10.8M316.11 471.5v10.8M329.85 868.1v-5.2M329.85 471.5v5.2M343.59 868.1v-5.2M343.59 471.5v5.2M357.33 868.1v-5.2M357.33 471.5v5.2M371.07 868.1v-10.8M371.07 471.5v10.8M384.81 868.1v-5.2M384.81 471.5v5.2M398.55 868.1v-5.2M398.55 471.5v5.2M412.29 868.1v-5.2M412.29 471.5v5.2M426.03 868.1v-10.8M426.03 471.5v10.8M439.77 868.1v-5.2M439.77 471.5v5.2M453.51 868.1v-5.2M453.51 471.5v5.2M467.25 868.1v-5.2M467.25 471.5v5.2M480.99 868.1v-10.8M480.99 471.5v10.8M494.73 868.1v-5.2M494.73 471.5v5.2M508.47 868.1v-5.2M508.47 471.5v5.2M522.21 868.1v-5.2M522.21 471.5v5.2M535.95 868.1v-10.8M535.95 471.5v10.8M549.69 868.1v-5.2M549.69 471.5v5.2M563.43 868.1v-5.2M563.43 471.5v5.2M577.17 868.1v-5.2M577.17 471.5v5.2M590.91 868.1v-10.8M590.91 471.5v10.8M604.65 868.1v-5.2M604.65 471.5v5.2M618.39 868.1v-5.2M618.39 471.5v5.2M138.1 476.92h8.4M632.45 476.92h-8.4M138.1 491.46h8.4M632.45 491.46h-8.4M138.1 506h16.8M632.45 506h-16.8M138.1 520.54h8.4M632.45 520.54h-8.4M138.1 535.08h8.4M632.45 535.08h-8.4M138.1 549.62h8.4M632.45 549.62h-8.4M138.1 564.16h8.4M632.45 564.16h-8.4M138.1 578.7h16.8M632.45 578.7h-16.8M138.1 593.24h8.4M632.45 593.24h-8.4M138.1 607.78h8.4M632.45 607.78h-8.4M138.1 622.32h8.4M632.45 622.32h-8.4M138.1 636.86h8.4M632.45 636.86h-8.4M138.1 651.4h16.8M632.45 651.4h-16.8M138.1 665.94h8.4M632.45 665.94h-8.4M138.1 680.48h8.4M632.45 680.48h-8.4M138.1 695.02h8.4M632.45 695.02h-8.4M138.1 709.56h8.4M632.45 709.56h-8.4M138.1 724.1h16.8M632.45 724.1h-16.8M138.1 738.64h8.4M632.45 738.64h-8.4M138.1 753.18h8.4M632.45 753.18h-8.4M138.1 767.72h8.4M632.45 767.72h-8.4M138.1 782.26h8.4M632.45 782.26h-8.4M138.1 796.8h16.8M632.45 796.8h-16.8M138.1 811.34h8.4M632.45 811.34h-8.4M138.1 825.88h8.4M632.45 825.88h-8.4M138.1 840.42h8.4M632.45 840.42h-8.4M138.1 854.96h8.4M632.45 854.96h-8.4" fill="none" stroke="#000" stroke-width="1.45" stroke-linecap="butt" stroke-linejoin="miter"/>
<text transform="translate(132.6 513.25) scale(1 1.04)" font-size="22.1" text-anchor="end" fill="#000" stroke="#000">0</text>
<text transform="translate(136.2 585.95) scale(1 1.04)" font-size="22.1" text-anchor="end" fill="#000" stroke="#000"><tspan dy="-0.2">−</tspan><tspan dx="0.1" dy="0.2">0.05</tspan></text>
<text transform="translate(135 658.65) scale(1 1.04)" font-size="22.1" text-anchor="end" fill="#000" stroke="#000"><tspan dy="-0.2">−</tspan><tspan dx="-1.3" dy="0.2">0.10</tspan></text>
<text transform="translate(136.1 731.35) scale(1 1.04)" font-size="22.1" text-anchor="end" fill="#000" stroke="#000"><tspan dy="-0.2">−</tspan><tspan dx="0.1" dy="0.2">0.15</tspan></text>
<text transform="translate(136.9 804.05) scale(1 1.04)" font-size="22.1" text-anchor="end" fill="#000" stroke="#000"><tspan dy="-0.2">−</tspan><tspan dx="-0.5" dy="0.2">0.20</tspan></text>
<text transform="translate(150.93 891.4) scale(1 1.04)" font-size="22.1" text-anchor="middle" fill="#000" stroke="#000"><tspan dy="-0.4">−</tspan><tspan dx="-1.6" dy="0.4">4</tspan></text>
<text transform="translate(205.89 891.4) scale(1 1.04)" font-size="22.1" text-anchor="middle" fill="#000" stroke="#000"><tspan dy="-0.4">−</tspan><tspan dx="-1.6" dy="0.4">2</tspan></text>
<text transform="translate(261.75 891.4) scale(1 1.04)" font-size="22.1" text-anchor="middle" fill="#000" stroke="#000">0</text>
<text transform="translate(316.71 891.4) scale(1 1.04)" font-size="22.1" text-anchor="middle" fill="#000" stroke="#000">2</text>
<text transform="translate(371.67 891.4) scale(1 1.04)" font-size="22.1" text-anchor="middle" fill="#000" stroke="#000">4</text>
<text transform="translate(426.63 891.4) scale(1 1.04)" font-size="22.1" text-anchor="middle" fill="#000" stroke="#000">6</text>
<text transform="translate(481.59 891.4) scale(1 1.04)" font-size="22.1" text-anchor="middle" fill="#000" stroke="#000">8</text>
<text transform="translate(536.55 891.4) scale(1 1.04)" font-size="22.1" text-anchor="middle" fill="#000" stroke="#000">10</text>
<text transform="translate(591.51 891.4) scale(1 1.04)" font-size="22.1" text-anchor="middle" fill="#000" stroke="#000">12</text>
<text x="638.8" y="916" font-size="22.4" text-anchor="end" fill="#000" stroke="#000">time (s)</text>
<text transform="translate(635.8 868.0) scale(1 1.07)" font-size="21.8" stroke="#000"><tspan dy="-1.0">×</tspan><tspan dy="1.0">10</tspan><tspan dy="-10.0" dx="-1.5" font-size="14.5">−<tspan dx="-1.6">6</tspan></tspan></text>
<text transform="translate(66.1 579.0) rotate(-90)" font-size="22.4" stroke="#000">Voltage (V)</text>
<text x="-1" y="491.4" font-size="32" text-anchor="start" fill="#000" stroke="#000">(b)</text>
</svg></body></html>
